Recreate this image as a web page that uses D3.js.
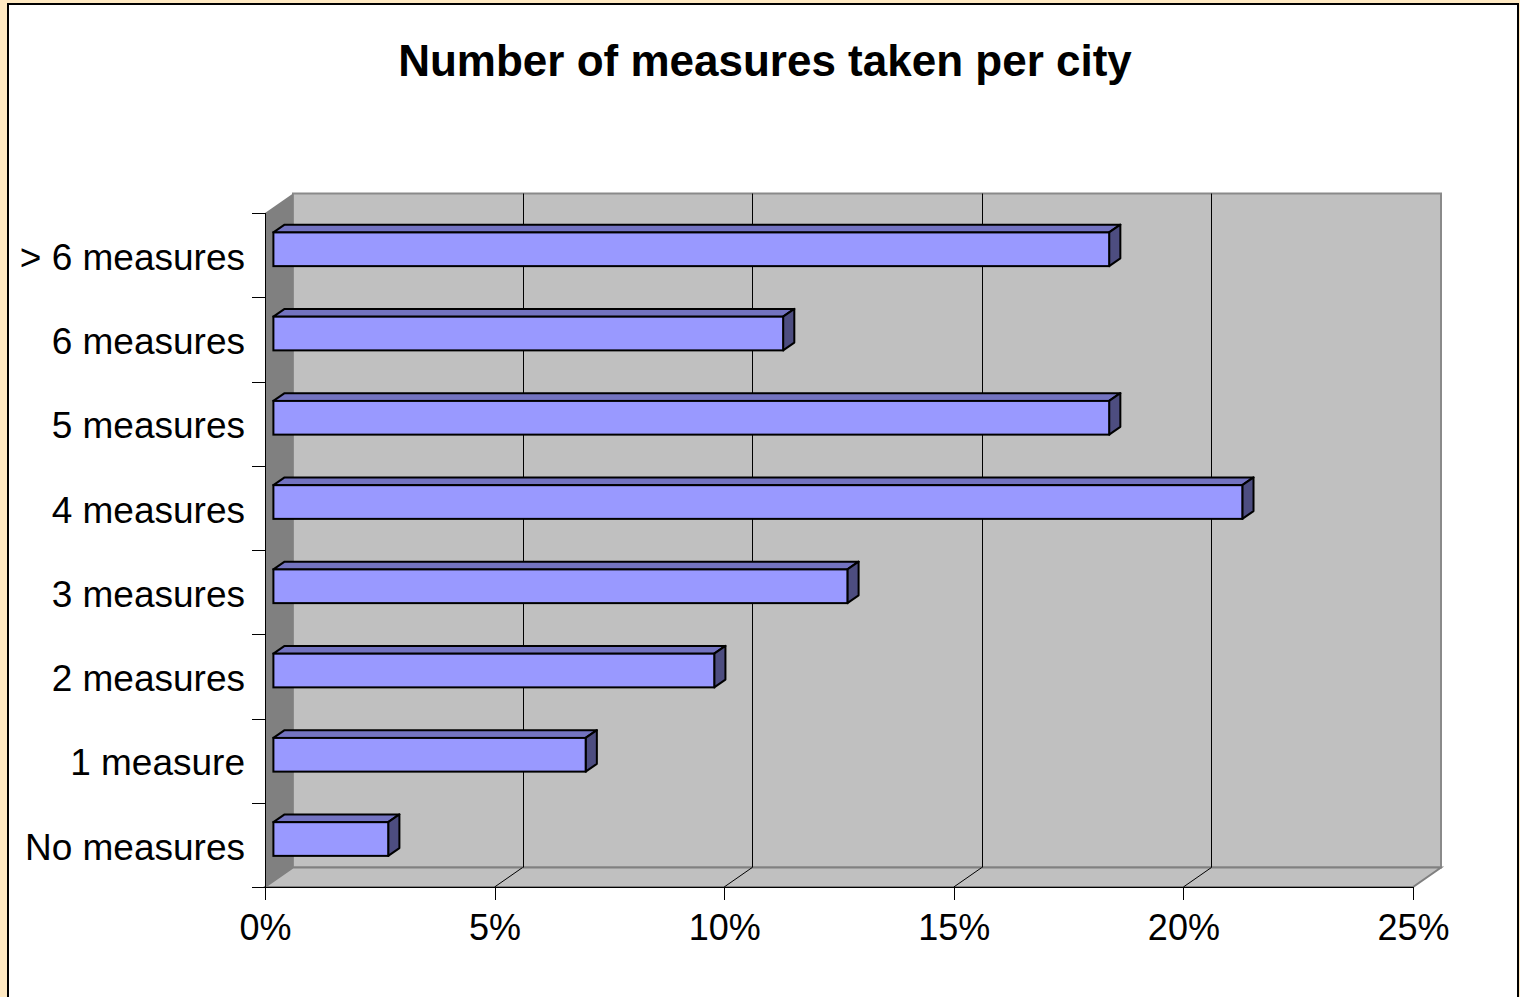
<!DOCTYPE html>
<html lang="en">
<head>
<meta charset="UTF-8">
<title>Number of measures taken per city</title>
<style>
  body{margin:0;background:#FFE9C2;font-family:"Liberation Sans",Arial,sans-serif;}
  svg{display:block;}
  .axis path,.axis line{stroke:#000;shape-rendering:crispEdges;}
  .axis text{font-family:"Liberation Sans",Arial,sans-serif;font-size:36px;fill:#000;}
  .y.axis text{font-size:37px;}
</style>
</head>
<body>
<script src="https://cdn.jsdelivr.net/npm/d3@7"></script>
<script>
// data
var categories = ["> 6 measures","6 measures","5 measures","4 measures","3 measures","2 measures","1 measure","No measures"];
var shares = [0.182,0.111,0.182,0.211,0.125,0.096,0.068,0.025];
var xTicks = [0,0.05,0.10,0.15,0.20,0.25];

var W = 1520, H = 997;
// front plane of the 3d box
var pL = 265, pR = 1413, pT = 213, pB = 887;
// depth offset front -> back
var dx = 28, dy = -19.5;
// bars sit in the middle of the depth
var f0 = 0.3, f1 = 0.7;

var x = d3.scaleLinear().domain([0,0.25]).range([pL,pR]);
var y = d3.scaleBand().domain(categories).range([pT,pB]).paddingInner(0.6).paddingOuter(0.3);

var svg = d3.select("body").append("svg").attr("width",W).attr("height",H);

// frame
svg.append("rect").attr("x",8).attr("y",4).attr("width",1510).attr("height",1000)
  .attr("fill","#fff").attr("stroke","#000").attr("stroke-width",2);

svg.append("text").attr("x",765).attr("y",76).attr("text-anchor","middle")
  .style("font-size","44px").style("font-weight","bold").text("Number of measures taken per city");

function pts(a){ return a.map(function(p){return p.join(",");}).join(" "); }

// back wall
svg.append("rect").attr("x",pL+dx).attr("y",pT+dy).attr("width",pR-pL).attr("height",pB-pT)
  .attr("fill","#C0C0C0").attr("stroke","#8A8A8A").attr("stroke-width",2);
// floor
svg.append("polygon").attr("points",pts([[pL,pB],[pR,pB],[pR+dx,pB+dy],[pL+dx,pB+dy]]))
  .attr("fill","#C0C0C0").attr("stroke","#808080").attr("stroke-width",2);
// left wall
svg.append("polygon").attr("points",pts([[pL,pT],[pL+dx,pT+dy],[pL+dx,pB+dy],[pL,pB]]))
  .attr("fill","#808080");

// gridlines (back wall + floor)
var grid = svg.append("g").attr("stroke","#000").attr("stroke-width",1);
xTicks.slice(1,-1).forEach(function(t){
  grid.append("line").attr("x1",Math.round(x(t)+dx)+0.5).attr("x2",Math.round(x(t)+dx)+0.5)
    .attr("y1",pT+dy).attr("y2",pB+dy);
  grid.append("line").attr("x1",x(t)).attr("y1",pB).attr("x2",x(t)+dx).attr("y2",pB+dy);
});

// bars
var bw = y.bandwidth();
var bars = svg.append("g").selectAll("g").data(categories).enter().append("g");
bars.each(function(c,i){
  var g = d3.select(this);
  var xa = x(0), xb = x(shares[i]), yt = y(c), yb = yt+bw;
  g.append("polygon").attr("points",pts([[xa+f0*dx,yt+f0*dy],[xb+f0*dx,yt+f0*dy],[xb+f1*dx,yt+f1*dy],[xa+f1*dx,yt+f1*dy]]))
    .attr("fill","#7373C0").attr("stroke","#000").attr("stroke-width",2).attr("stroke-linejoin","round");
  g.append("polygon").attr("points",pts([[xb+f0*dx,yt+f0*dy],[xb+f1*dx,yt+f1*dy],[xb+f1*dx,yb+f1*dy],[xb+f0*dx,yb+f0*dy]]))
    .attr("fill","#4D4D80").attr("stroke","#000").attr("stroke-width",2).attr("stroke-linejoin","round");
  g.append("rect").attr("x",xa+f0*dx).attr("y",yt+f0*dy).attr("width",xb-xa).attr("height",bw)
    .attr("fill","#9999FF").attr("stroke","#000").attr("stroke-width",2);
});

// x axis
svg.append("g").attr("class","x axis").attr("transform","translate(0,"+pB+")")
  .call(d3.axisBottom(x).tickValues(xTicks).tickFormat(d3.format(".0%")).tickSize(13).tickSizeOuter(0).tickPadding(14))
  .select(".domain").remove();
svg.append("line").attr("x1",pL-13).attr("x2",pR).attr("y1",pB+0.5).attr("y2",pB+0.5).attr("stroke","#000");

// y axis: labels at band centres, ticks at band boundaries
var yAxis = svg.append("g").attr("class","y axis").attr("transform","translate("+pL+",0)")
  .call(d3.axisLeft(y).tickSize(0).tickPadding(20));
yAxis.select(".domain").remove();
yAxis.selectAll("text").attr("dy","0.4em");
svg.append("line").attr("x1",pL+0.5).attr("x2",pL+0.5).attr("y1",pT).attr("y2",pB+13).attr("stroke","#000");
d3.range(categories.length+1).forEach(function(k){
  var yy = Math.round(pT + k*y.step())+0.5;
  svg.append("line").attr("x1",pL-13).attr("x2",pL).attr("y1",yy).attr("y2",yy).attr("stroke","#000");
});
</script>
</body>
</html>
